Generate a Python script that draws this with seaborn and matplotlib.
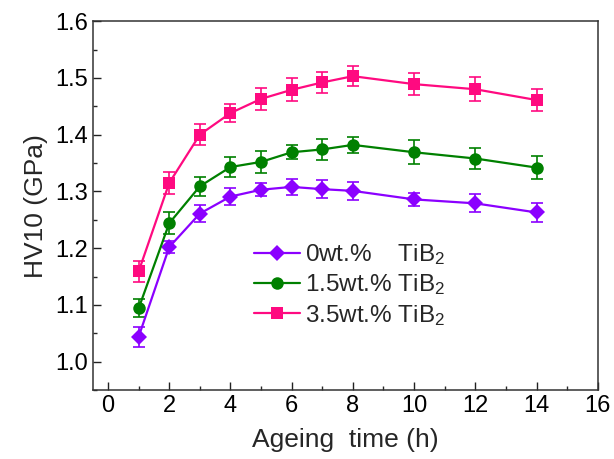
import numpy as np
import pandas as pd
import seaborn as sns
import matplotlib.pyplot as plt
from matplotlib.ticker import MultipleLocator, FormatStrFormatter

# --- данные ---
ageing_time = [1, 2, 3, 4, 5, 6, 7, 8, 10, 12, 14]

hv_0 = [1.044, 1.202, 1.261, 1.291, 1.303, 1.308, 1.304, 1.301, 1.286, 1.279, 1.263]
hv_15 = [1.094, 1.244, 1.309, 1.343, 1.352, 1.369, 1.374, 1.382, 1.369, 1.358, 1.342]
hv_35 = [1.159, 1.315, 1.400, 1.438, 1.463, 1.479, 1.492, 1.503, 1.489, 1.480, 1.461]

err_0 = [0.018, 0.011, 0.015, 0.015, 0.011, 0.014, 0.016, 0.016, 0.011, 0.016, 0.016]
err_15 = [0.016, 0.019, 0.017, 0.018, 0.019, 0.012, 0.018, 0.014, 0.021, 0.018, 0.020]
err_35 = [0.018, 0.020, 0.019, 0.016, 0.019, 0.020, 0.018, 0.018, 0.019, 0.021, 0.019]

labels = ["0wt.%    TiB$_2$", "1.5wt.% TiB$_2$", "3.5wt.% TiB$_2$"]
colors = ["#8B00FF", "#008000", "#FF0A80"]
markers = ["D", "o", "s"]

sns.set_theme(style="ticks")
plt.rcParams['font.family'] = ['Liberation Sans', 'DejaVu Sans']
plt.rcParams['mathtext.fontset'] = 'custom'
plt.rcParams['mathtext.rm'] = 'Liberation Sans'
plt.rcParams['mathtext.it'] = 'Liberation Sans'

df = pd.concat([
    pd.DataFrame({'t': ageing_time, 'hv': hv, 'err': err, 'grp': lab})
    for hv, err, lab in zip([hv_0, hv_15, hv_35], [err_0, err_15, err_35], labels)
])

fig = plt.figure(figsize=(6.14, 4.59), dpi=100)
ax = fig.add_axes([0.151, 0.150, 0.8225, 0.804])

for lab, col, mk in zip(labels, colors, markers):
    sub = df[df['grp'] == lab]
    ax.errorbar(sub['t'], sub['hv'], yerr=sub['err'], fmt='none', ecolor=col,
                elinewidth=1.2, capsize=4, capthick=1.2, zorder=2)
    sns.lineplot(data=sub, x='t', y='hv', ax=ax, color=col, marker=mk,
                 markersize=8 if mk == 'D' else 9, markeredgewidth=0, linewidth=1.6,
                 label=lab, zorder=3)

ax.set_xlim(-0.5, 16)
ax.set_ylim(0.95, 1.6)
ax.xaxis.set_major_locator(MultipleLocator(2))
ax.xaxis.set_minor_locator(MultipleLocator(1))
ax.yaxis.set_major_locator(MultipleLocator(0.1))
ax.yaxis.set_minor_locator(MultipleLocator(0.05))
ax.yaxis.set_major_formatter(FormatStrFormatter('%.1f'))
ax.tick_params(which='major', direction='in', length=6, width=1, labelsize=17, colors='#222222')
ax.tick_params(which='minor', direction='in', length=3, width=1)
ax.tick_params(axis='both', labelcolor='black')
for sp in ax.spines.values():
    sp.set_color('#333333')
    sp.set_linewidth(1.1)

ax.set_xlabel('Ageing  time (h)', fontsize=19, labelpad=8)
ax.set_ylabel('HV10 (GPa)', fontsize=19, labelpad=5)

leg = ax.legend(loc='upper left', bbox_to_anchor=(0.30, 0.427), frameon=False,
                fontsize=17.5, handlelength=1.9, handletextpad=0.2, labelspacing=0.22,
                borderaxespad=0)

fig.savefig('out.png', dpi=100, facecolor='white')
